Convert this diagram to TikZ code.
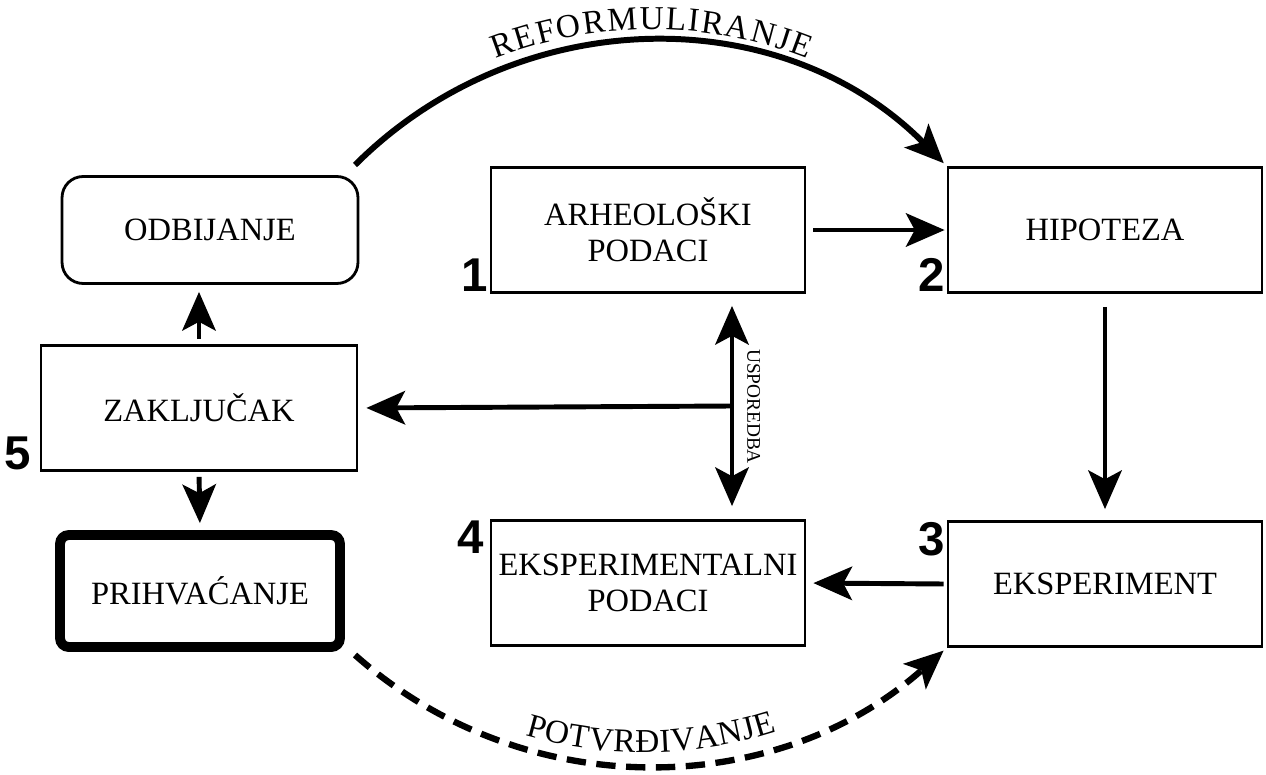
\documentclass[tikz,border=0pt]{standalone}
\usepackage{fontspec}
\setmainfont{Liberation Serif}
\newfontfamily\numfont{Liberation Sans}
\usepackage{tikz}
\usetikzlibrary{arrows.meta,decorations.text}
\tikzset{every picture/.style={/utils/exec={\fontsize{18.5}{20.5}\selectfont}}}
\tikzstyle{line}=[line width=1.6pt]
\tikzstyle{arrow}=[line width=2.8pt,-{Stealth[length=22pt,width=19pt,inset=5pt]}]
\tikzstyle{box}=[draw,line,minimum width=6.28cm,minimum height=2.5cm,inner xsep=1pt,align=center]
\tikzstyle{num}=[font=\numfont\bfseries\fontsize{27}{27}\selectfont,inner sep=1pt]
\tikzstyle{arclabel}=[decorate,decoration={text effects along path,text align=center,raise=7pt,
      text effects/.cd,text along path,every character/.style={font=\fontsize{19}{19}\selectfont,inner xsep=0.3pt}}]

\begin{document}
\begin{tikzpicture}[x=0.02cm,y=-0.02cm]
    \useasboundingbox (0,0) rectangle (1266,774);
    % boxes
    \node[box] (Arch)    at (648,230)  {ARHEOLOŠKI\\PODACI};
    \node[box] (Hyp)     at (1105,230) {HIPOTEZA};
    \node[box] (Exp)     at (1105,584) {EKSPERIMENT};
    \node[box] (ExpData) at (648,583)  {EKSPERIMENTALNI\\PODACI};
    \node[box,minimum width=6.32cm] (Concl) at (199,408) {ZAKLJUČAK};
    \node[box,rounded corners=12pt,minimum width=5.92cm,minimum height=2.14cm] (Reject) at (210,230) {ODBIJANJE};
    \node[box,line width=5.6pt,rounded corners=5pt,minimum width=5.6cm,minimum height=2.24cm] (Accept) at (200,591) {PRIHVAĆANJE};
    % step numbers
    \node[num,anchor=south east] (n1) at (Arch.south west) {1};
    \node[num,anchor=south east] (n2) at (Hyp.south west) {2};
    \node[num,anchor=north east] (n3) at (Exp.north west) {3};
    \node[num,anchor=north east] (n4) at ([xshift=-0.08cm]ExpData.north west) {4};
    \node[num,anchor=south east] (n5) at ([xshift=-0.14cm]Concl.south west) {5};
    % comparison
    \coordinate (Cmp) at (732,406);
    \draw[arrow,{Stealth[length=22pt,width=19pt,inset=5pt]}-{Stealth[length=22pt,width=19pt,inset=5pt]},
      shorten <=0.24cm,shorten >=0.26cm] (Cmp |- Arch.south) -- (Cmp |- ExpData.north)
      node[pos=0.5,right=1pt,rotate=-90,anchor=south,font=\fontsize{11}{11}\selectfont] (CmpLabel) {USPOREDBA};
    \draw[arrow,shorten >=0.16cm] (Cmp) -- (Concl.east);
    % main flow
    \draw[arrow,shorten <=0.14cm,shorten >=0.04cm] (Arch.east) -- (Hyp.west);
    \draw[arrow,shorten <=0.26cm,shorten >=0.22cm] (Hyp.south) -- (Exp.north);
    \draw[arrow,shorten <=0.06cm,shorten >=0.14cm] (Exp.west) -- (ExpData.east);
    \draw[arrow,shorten <=0.1cm,shorten >=0.14cm] (Concl.north) -- (Concl.north |- Reject.south);
    \draw[arrow,shorten <=0.1cm,shorten >=0.14cm] (Concl.south) -- (Accept.north);
    % loops
    \coordinate (ReStart) at (355,165);
    \draw[arrow,line width=3.4pt,shorten >=0.08cm] (ReStart) .. controls (517,3) and (780,-2) .. (Hyp.north west);
    \path[arclabel,decoration={text={REFORMULIRANJE}}] (ReStart) .. controls (517,3) and (780,-2) .. (Hyp.north west);
    \coordinate (PoStart) at (355,655);
    \draw[arrow,line width=3.6pt,dash pattern=on 11pt off 6pt,shorten >=0.08cm] (PoStart) .. controls (524,805) and (776,800) .. (Exp.south west);
    \path[arclabel,decoration={text={POTVRĐIVANJE}}] (PoStart) .. controls (524,805) and (776,800) .. (Exp.south west);
\end{tikzpicture}
\end{document}
